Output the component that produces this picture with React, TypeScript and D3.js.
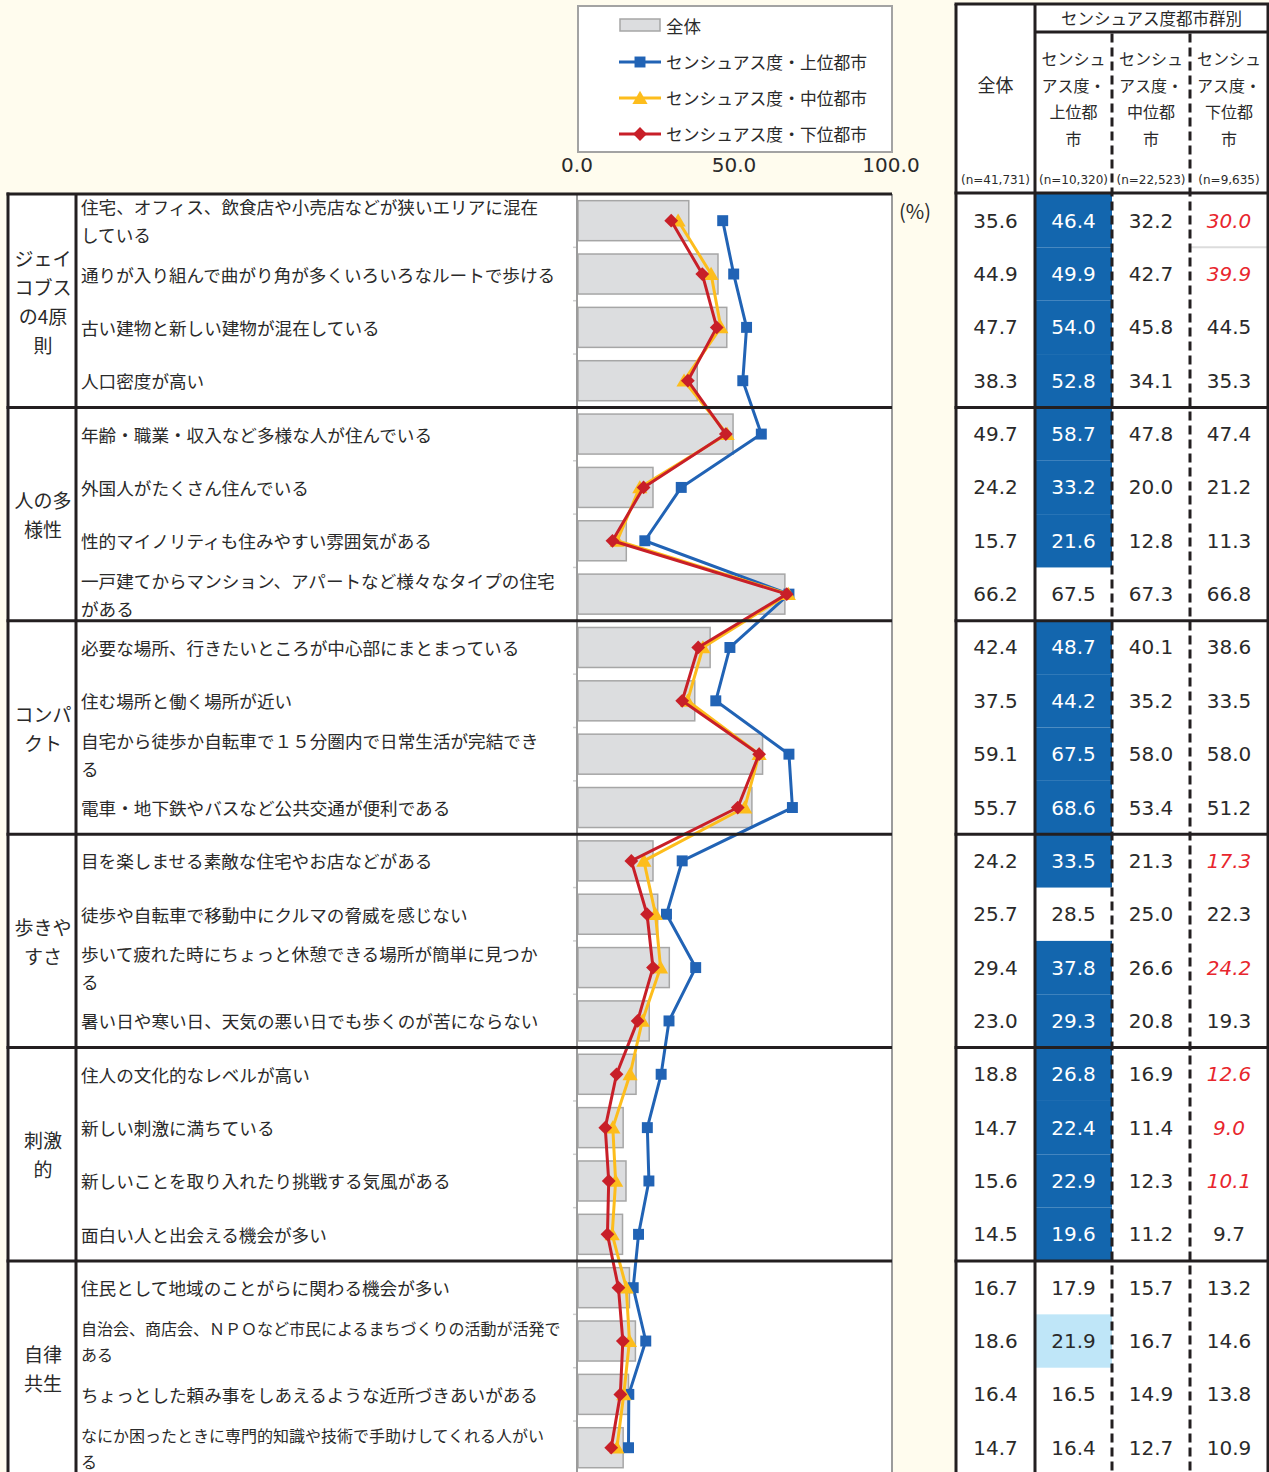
import React from 'react';
import * as d3 from 'd3';

// ---------- data ----------
const groupLabels = ['ジェイ\nコブス\nの4原\n則', '人の多\n様性', 'コンパ\nクト', '歩きや\nすさ', '刺激\n的', '自律\n共生'];
const groupSizes = [4, 4, 4, 4, 4, 4];

const itemLabels = [
  '住宅、オフィス、飲食店や小売店などが狭いエリアに混在\nしている',
  '通りが入り組んで曲がり角が多くいろいろなルートで歩ける',
  '古い建物と新しい建物が混在している',
  '人口密度が高い',
  '年齢・職業・収入など多様な人が住んでいる',
  '外国人がたくさん住んでいる',
  '性的マイノリティも住みやすい雰囲気がある',
  '一戸建てからマンション、アパートなど様々なタイプの住宅\nがある',
  '必要な場所、行きたいところが中心部にまとまっている',
  '住む場所と働く場所が近い',
  '自宅から徒歩か自転車で１５分圏内で日常生活が完結でき\nる',
  '電車・地下鉄やバスなど公共交通が便利である',
  '目を楽しませる素敵な住宅やお店などがある',
  '徒歩や自転車で移動中にクルマの脅威を感じない',
  '歩いて疲れた時にちょっと休憩できる場所が簡単に見つか\nる',
  '暑い日や寒い日、天気の悪い日でも歩くのが苦にならない',
  '住人の文化的なレベルが高い',
  '新しい刺激に満ちている',
  '新しいことを取り入れたり挑戦する気風がある',
  '面白い人と出会える機会が多い',
  '住民として地域のことがらに関わる機会が多い',
  '自治会、商店会、ＮＰＯなど市民によるまちづくりの活動が活発で\nある',
  'ちょっとした頼み事をしあえるような近所づきあいがある',
  'なにか困ったときに専門的知識や技術で手助けしてくれる人がい\nる',
];

const totalValues = [35.6, 44.9, 47.7, 38.3, 49.7, 24.2, 15.7, 66.2, 42.4, 37.5, 59.1, 55.7, 24.2, 25.7, 29.4, 23.0, 18.8, 14.7, 15.6, 14.5, 16.7, 18.6, 16.4, 14.7];
const upperValues = [46.4, 49.9, 54.0, 52.8, 58.7, 33.2, 21.6, 67.5, 48.7, 44.2, 67.5, 68.6, 33.5, 28.5, 37.8, 29.3, 26.8, 22.4, 22.9, 19.6, 17.9, 21.9, 16.5, 16.4];
const middleValues = [32.2, 42.7, 45.8, 34.1, 47.8, 20.0, 12.8, 67.3, 40.1, 35.2, 58.0, 53.4, 21.3, 25.0, 26.6, 20.8, 16.9, 11.4, 12.3, 11.2, 15.7, 16.7, 14.9, 12.7];
const lowerValues = [30.0, 39.9, 44.5, 35.3, 47.4, 21.2, 11.3, 66.8, 38.6, 33.5, 58.0, 51.2, 17.3, 22.3, 24.2, 19.3, 12.6, 9.0, 10.1, 9.7, 13.2, 14.6, 13.8, 10.9];

// 2 = significantly higher (dark), 1 = higher (light), 0 = none
const upperMarks = [2, 2, 2, 2, 2, 2, 2, 0, 2, 2, 2, 2, 2, 0, 2, 2, 2, 2, 2, 2, 0, 1, 0, 0];
// 1 = significantly lower
const lowerMarks = [1, 1, 0, 0, 0, 0, 0, 0, 0, 0, 0, 0, 1, 0, 1, 0, 1, 1, 1, 0, 0, 0, 0, 0];

const totalName = '全体';
const seriesNames = ['センシュアス度・上位都市', 'センシュアス度・中位都市', 'センシュアス度・下位都市'];
const tableGroupTitle = 'センシュアス度都市群別';
const columnHeaders = ['全体', 'センシュ\nアス度・\n上位都\n市', 'センシュ\nアス度・\n中位都\n市', 'センシュ\nアス度・\n下位都\n市'];
const sampleSizes = ['(n=41,731)', '(n=10,320)', '(n=22,523)', '(n=9,635)'];
const tickValues = [0, 50, 100];
const unitLabel = '(%)';

// ---------- style ----------
const JP = '"Noto Sans CJK JP", "Noto Sans", sans-serif';
const NUM = '"DejaVu Sans", Verdana, sans-serif';
const CREAM = '#fffcee';
const INK = '#2a2a2a';
const LINE = '#231f20';
const BLUE = '#2163b5';
const YELLOW = '#fdbd1c';
const RED = '#c81f28';
const CELL_DARK = '#1366ae';
const CELL_LIGHT = '#bfe6f8';

const W = 1269;
const H = 1472;
const TOP = 194;
const STEP = 53.35;
const N = itemLabels.length;

export default function App() {
  const y = d3
    .scaleBand<number>()
    .domain(d3.range(N))
    .range([TOP, TOP + N * STEP])
    .paddingInner(0.25)
    .paddingOuter(0.125);
  const rowTop = (i: number) => (y(i) as number) - y.step() * 0.125;
  const rowCenter = (i: number) => (y(i) as number) + y.bandwidth() / 2;
  const x = d3.scaleLinear().domain([0, 100]).range([577, 891]);

  const series = [
    { name: seriesNames[0], values: upperValues, color: BLUE, shape: 'square' },
    { name: seriesNames[1], values: middleValues, color: YELLOW, shape: 'triangle' },
    { name: seriesNames[2], values: lowerValues, color: RED, shape: 'diamond' },
  ];

  const lineGen = d3
    .line<number>()
    .x((d) => x(d))
    .y((_, i) => rowCenter(i));

  const symbolPath = (shape: string) => {
    if (shape === 'square') return d3.symbol().type(d3.symbolSquare).size(120)() as string;
    if (shape === 'triangle') return d3.symbol().type(d3.symbolTriangle).size(100)() as string;
    return d3.symbol().type(d3.symbolSquare).size(95)() as string;
  };
  const marker = (shape: string, color: string, cx: number, cy: number, key: string) => (
    <path
      key={key}
      d={symbolPath(shape)}
      fill={color}
      transform={`translate(${cx},${cy + (shape === 'triangle' ? 1.5 : 0)})${shape === 'diamond' ? ' rotate(45)' : ''}`}
    />
  );

  // group boundaries
  const groupStarts: number[] = [];
  let acc = 0;
  groupSizes.forEach((s) => {
    groupStarts.push(acc);
    acc += s;
  });

  const colX = [956, 1035, 1112, 1190, 1268];
  const colCenter = (c: number) => (colX[c] + colX[c + 1]) / 2;

  const itemFont = (line: string) => (line.length >= 29 ? 16 : 17.6);

  return (
    <svg
      width={W}
      height={H}
      style={{ position: 'absolute', left: 0, top: 0, background: CREAM }}
      xmlns="http://www.w3.org/2000/svg"
    >
      <rect x={0} y={0} width={W} height={H} fill={CREAM} />

      {/* ---------- left table background ---------- */}
      <rect x={8} y={TOP} width={884} height={H - TOP} fill="#fff" />

      {/* legend */}
      <rect x={578} y={6} width={314} height={146} fill="#fff" stroke="#a3a3a3" strokeWidth={2} />
      <rect x={620} y={19} width={40} height={12} fill="#dcdddf" stroke="#a6a6a6" strokeWidth={1.5} />
      <text x={666} y={25} dominantBaseline="central" fontFamily={JP} fontSize={17.5} fill={INK}>
        {totalName}
      </text>
      {series.map((s, k) => {
        const ly = 62 + k * 36;
        return (
          <g key={s.name}>
            <line x1={619} x2={661} y1={ly} y2={ly} stroke={s.color} strokeWidth={3} />
            {marker(s.shape, s.color, 640, ly, 'lm' + k)}
            <text x={666} y={ly} dominantBaseline="central" fontFamily={JP} fontSize={16.8} fill={INK}>
              {s.name}
            </text>
          </g>
        );
      })}

      {/* tick labels */}
      {tickValues.map((t) => (
        <text
          key={t}
          x={x(t)}
          y={165}
          textAnchor="middle"
          dominantBaseline="central"
          fontFamily={NUM}
          fontSize={20}
          fill={INK}
        >
          {d3.format('.1f')(t)}
        </text>
      ))}
      <text x={915} y={210} textAnchor="middle" dominantBaseline="central" fontFamily={JP} fontSize={20} fill={INK}>
        {unitLabel}
      </text>

      {/* bars */}
      {totalValues.map((v, i) => (
        <rect
          key={'b' + i}
          x={x(0) + 1}
          y={y(i)}
          width={x(v) - x(0) - 1}
          height={y.bandwidth()}
          fill="#dcdddf"
          stroke="#a6a6a6"
          strokeWidth={1.5}
        />
      ))}

      {/* axis ticks at left of plot */}
      {d3.range(N + 1).map((i) => (
        <line key={'yt' + i} x1={573} x2={577} y1={TOP + i * STEP} y2={TOP + i * STEP} stroke="#cfcfcf" strokeWidth={1.5} />
      ))}

      {/* plot frame */}
      <line x1={577} x2={577} y1={TOP} y2={H} stroke="#9b9b9b" strokeWidth={2} />
      <line x1={892} x2={892} y1={TOP} y2={H} stroke="#9b9b9b" strokeWidth={2} />

      {/* lines */}
      {series.map((s, k) => (
        <g key={'s' + k}>
          <path d={lineGen(s.values) as string} fill="none" stroke={s.color} strokeWidth={3} strokeLinejoin="round" />
          {s.values.map((v, i) => marker(s.shape, s.color, x(v), rowCenter(i), `m${k}-${i}`))}
        </g>
      ))}

      {/* item labels */}
      {itemLabels.map((label, i) => {
        const lines = label.split('\n');
        const fs = itemFont(lines[0]);
        const gap = fs >= 17 ? 28 : 26;
        const c = rowCenter(i);
        return lines.map((ln, j) => (
          <text
            key={`it${i}-${j}`}
            x={81}
            y={c + (j - (lines.length - 1) / 2) * gap}
            dominantBaseline="central"
            fontFamily={JP}
            fontSize={fs}
            fill={INK}
          >
            {ln}
          </text>
        ));
      })}

      {/* group labels */}
      {groupLabels.map((g, gi) => {
        const lines = g.split('\n');
        const start = groupStarts[gi];
        const cy = TOP + (start + groupSizes[gi] / 2) * STEP;
        return lines.map((ln, j) => (
          <text
            key={`g${gi}-${j}`}
            x={43}
            y={cy + (j - (lines.length - 1) / 2) * 29}
            textAnchor="middle"
            dominantBaseline="central"
            fontFamily={JP}
            fontSize={19}
            fill={INK}
          >
            {ln}
          </text>
        ));
      })}

      {/* left table lines */}
      <line x1={8} x2={8} y1={TOP - 1.5} y2={H} stroke={LINE} strokeWidth={3} />
      <line x1={76} x2={76} y1={TOP} y2={H} stroke={LINE} strokeWidth={3} />
      <line x1={6.5} x2={892} y1={TOP} y2={TOP} stroke={LINE} strokeWidth={3} />
      {groupStarts.slice(1).map((s) => (
        <line key={'gl' + s} x1={6.5} x2={892} y1={TOP + s * STEP} y2={TOP + s * STEP} stroke={LINE} strokeWidth={3} />
      ))}

      {/* ---------- right table ---------- */}
      <rect x={956} y={4} width={312} height={H - 4} fill="#fff" />

      {/* highlighted cells */}
      {upperMarks.map((m, i) =>
        m > 0 ? (
          <rect
            key={'c' + i}
            x={colX[1]}
            y={rowTop(i)}
            width={colX[2] - colX[1]}
            height={STEP}
            fill={m === 2 ? CELL_DARK : CELL_LIGHT}
          />
        ) : null
      )}

      {/* thin separator under first row in last column */}
      <line x1={1191} x2={1267} y1={rowTop(1)} y2={rowTop(1)} stroke="#dcdcdc" strokeWidth={2} />

      {/* header */}
      <text x={(colX[1] + colX[4]) / 2} y={18} textAnchor="middle" dominantBaseline="central" fontFamily={JP} fontSize={16.5} fill={INK}>
        {tableGroupTitle}
      </text>
      {columnHeaders.map((h, c) => {
        const lines = h.split('\n');
        if (lines.length === 1)
          return (
            <text key={'h' + c} x={colCenter(c)} y={84} textAnchor="middle" dominantBaseline="central" fontFamily={JP} fontSize={18} fill={INK}>
              {h}
            </text>
          );
        return lines.map((ln, j) => (
          <text
            key={`h${c}-${j}`}
            x={colCenter(c)}
            y={58 + j * 26.7}
            textAnchor="middle"
            dominantBaseline="central"
            fontFamily={JP}
            fontSize={16}
            fill={INK}
          >
            {ln}
          </text>
        ));
      })}
      {sampleSizes.map((n, c) => (
        <text key={'n' + c} x={colCenter(c)} y={180} textAnchor="middle" dominantBaseline="central" fontFamily={NUM} fontSize={12} fill={INK}>
          {n}
        </text>
      ))}

      {/* values */}
      {[totalValues, upperValues, middleValues, lowerValues].map((vals, c) =>
        vals.map((v, i) => {
          const dark = c === 1 && upperMarks[i] === 2;
          const redItalic = c === 3 && lowerMarks[i] === 1;
          return (
            <text
              key={`v${c}-${i}`}
              x={colCenter(c)}
              y={rowCenter(i)}
              textAnchor="middle"
              dominantBaseline="central"
              fontFamily={NUM}
              fontSize={20}
              fontStyle={redItalic ? 'italic' : 'normal'}
              fill={dark ? '#ffffff' : redItalic ? '#e8262d' : INK}
            >
              {d3.format('.1f')(v)}
            </text>
          );
        })
      )}

      {/* table grid */}
      <line x1={954.5} x2={1269.5} y1={4} y2={4} stroke={LINE} strokeWidth={3} />
      <line x1={colX[1]} x2={1269.5} y1={32} y2={32} stroke={LINE} strokeWidth={3} />
      <line x1={954.5} x2={1269.5} y1={TOP - 1} y2={TOP - 1} stroke={LINE} strokeWidth={3} />
      {groupStarts.slice(1).map((s) => (
        <line key={'tg' + s} x1={954.5} x2={1269.5} y1={TOP + s * STEP} y2={TOP + s * STEP} stroke={LINE} strokeWidth={3} />
      ))}
      <line x1={956} x2={956} y1={4} y2={H} stroke={LINE} strokeWidth={3} />
      <line x1={colX[1]} x2={colX[1]} y1={4} y2={H} stroke={LINE} strokeWidth={3} />
      <line x1={1268} x2={1268} y1={4} y2={H} stroke={LINE} strokeWidth={3} />
      {[colX[2], colX[3]].map((cx) => (
        <line key={'d' + cx} x1={cx} x2={cx} y1={33.5} y2={H} stroke={LINE} strokeWidth={3} strokeDasharray="9 5" />
      ))}
    </svg>
  );
}
